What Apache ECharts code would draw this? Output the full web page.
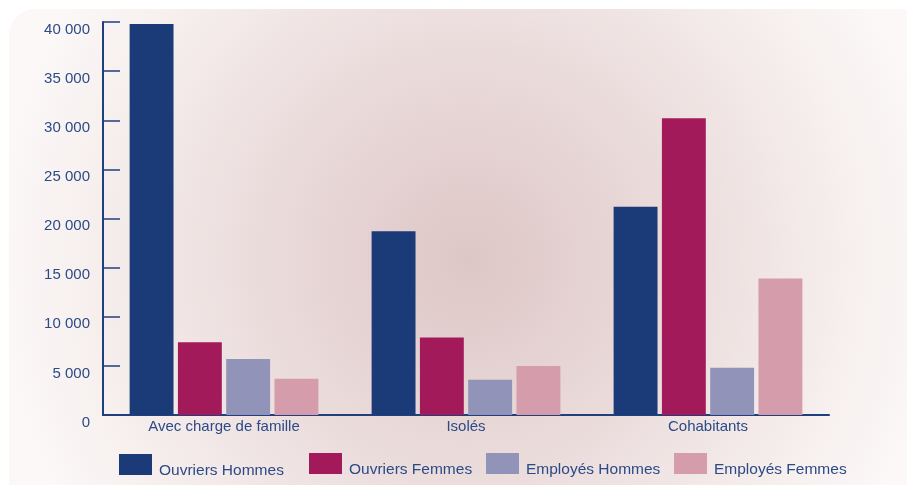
<!DOCTYPE html>
<html><head><meta charset="utf-8">
<script src="https://cdn.jsdelivr.net/npm/echarts@6/dist/echarts.min.js"></script>
<style>html,body{margin:0;padding:0;background:#fff}#c{width:907px;height:485px}</style>
</head><body><div id="c"></div>
<script>
const categories = ['Avec charge de famille', 'Isolés', 'Cohabitants'];
const seriesNames = ['Ouvriers Hommes', 'Ouvriers Femmes', 'Employés Hommes', 'Employés Femmes'];
const ouvriersHommes = [39800, 18700, 21200];
const ouvriersFemmes = [7400, 7900, 30200];
const employesHommes = [5700, 3600, 4800];
const employesFemmes = [3700, 5000, 13900];
const colors = ['#1a3a78', '#a21a5a', '#9194b8', '#d59cac'];
const values = [ouvriersHommes, ouvriersFemmes, employesHommes, employesFemmes];
const textColor = '#2c4a86';
const axisColor = '#1f3f7e';

const chart = echarts.init(document.getElementById('c'));
const legendPos = [[119, 454], [309, 453], [486, 453], [674, 453]];
chart.setOption({
  animation: false,
  graphic: [{
    type: 'rect', z: -10, silent: true,
    shape: { x: 9, y: 9, width: 920, height: 500, r: 26 },
    style: { fill: { type: 'radial', x: 0.5, y: 0.5, r: 0.95,
      colorStops: [{ offset: 0, color: '#dec6c6' }, { offset: 0.45, color: '#ebdcdc' }, { offset: 0.8, color: '#f6efee' }, { offset: 1, color: '#fbf8f7' }] } }
  }],
  legend: seriesNames.map((n, i) => ({
    data: [n], left: legendPos[i][0], top: legendPos[i][1],
    itemWidth: 33, itemHeight: 21, itemGap: 6, icon: 'rect', padding: 0,
    formatter: name => '{t|' + name + '}',
    textStyle: { rich: { t: { color: textColor, fontSize: 15.5, fontFamily: 'Liberation Sans, sans-serif', padding: [12, 0, 0, 2] } } }
  })),
  grid: { left: 103, right: 78, top: 22, bottom: 70, containLabel: false },
  xAxis: {
    type: 'category', data: categories,
    axisLine: { lineStyle: { color: axisColor, width: 2 } },
    axisTick: { inside: true, length: 10, lineStyle: { color: axisColor, width: 1.5 } },
    axisLabel: { color: textColor, fontSize: 15, fontFamily: 'Liberation Sans, sans-serif', margin: 4 }
  },
  yAxis: {
    type: 'value', min: 0, max: 40000, interval: 5000,
    splitLine: { show: false },
    axisLine: { show: true, lineStyle: { color: axisColor, width: 2 } },
    axisTick: { show: true, inside: true, length: 17, lineStyle: { color: axisColor, width: 1.5 } },
    axisLabel: { color: textColor, fontSize: 15, fontFamily: 'Liberation Sans, sans-serif', margin: 13, verticalAlign: 'top',
      formatter: v => v === 0 ? '0' : String(v).replace(/(\d)(?=(\d{3})+$)/g, '$1 ') }
  },
  series: seriesNames.map((n, i) => ({
    name: n, type: 'bar', data: values[i],
    itemStyle: { color: colors[i] },
    barGap: '10%', barCategoryGap: '22%'
  }))
});
</script></body></html>
